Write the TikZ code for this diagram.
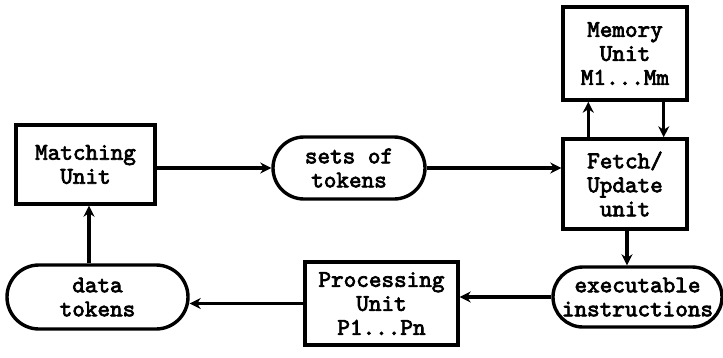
\documentclass[tikz,border=0pt]{standalone}
\usepackage{fontspec}
\setmonofont{lmmono10-regular.otf}[FakeBold=3]
\usetikzlibrary{shapes.misc,arrows.meta}
\begin{document}
\begin{tikzpicture}[x=1pt,y=-1pt, line width=3.4pt,
  every node/.style={font=\ttfamily\fontsize{24}{24}\selectfont, align=center, inner sep=0pt},
  box/.style={draw, rectangle, line width=3.4pt},
  pill/.style={draw, rounded rectangle, line width=3.4pt},
  arr/.style={draw, line width=3.4pt, -{Stealth[length=11pt,width=11pt,inset=3.5pt]}}]
\useasboundingbox (0,0) rectangle (723,357);
\node[box, minimum width=139pt, minimum height=79pt] (match) at (85.5,164.5) {Matching\\Unit};
\node[pill, minimum width=152pt, minimum height=62pt] (sets) at (349,168) {sets of\\tokens};
\node[box, minimum width=124pt, minimum height=90pt] (fetch) at (625,184) {Fetch/\\Update\\unit};
\node[box, minimum width=124pt, minimum height=93pt] (memory) at (625,53.5) {Memory\\Unit\\M1...Mm};
\node[pill, minimum width=169pt, minimum height=60pt] (exec) at (637.5,297) {executable\\instructions};
\node[box, minimum width=153pt, minimum height=83pt] (proc) at (381.5,303.5) {Processing\\Unit\\P1...Pn};
\node[pill, minimum width=181pt, minimum height=64pt] (data) at (97.5,297) {data\\tokens};
\draw[arr] (match.east|-sets.west) -- (sets.west);
\draw[arr] (sets.east) -- (sets.east-|fetch.west);
\draw[arr] ([xshift=27pt]fetch.north west) -- ([xshift=27pt]memory.south west);
\draw[arr] ([xshift=-25pt]memory.south east) -- ([xshift=-25pt]fetch.north east);
\draw[arr] ([xshift=2pt]fetch.south) -- ([xshift=-10.5pt]exec.north);
\draw[arr] (exec.west) -- (exec.west-|proc.east);
\draw[arr] (proc.west) -- (proc.west-|data.east);
\draw[arr] ([xshift=-8.5pt]data.north) -- ([xshift=3.5pt]match.south);
\end{tikzpicture}
\end{document}
